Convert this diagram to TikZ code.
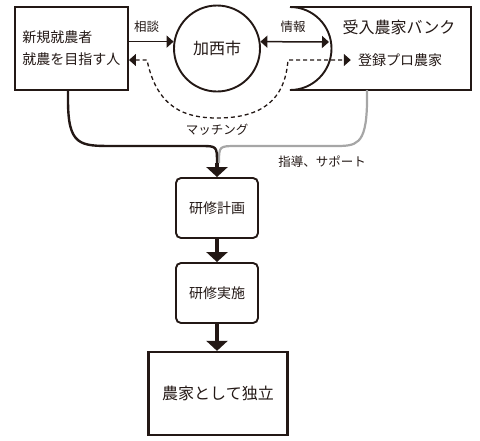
\documentclass[tikz,border=0pt]{standalone}
\usepackage{fontspec}
\setmainfont{Noto Sans CJK JP}
\usepackage{xcolor}
\usetikzlibrary{arrows.meta}
\definecolor{ink}{HTML}{231815}
\definecolor{guide}{HTML}{A6A6A6}
\tikzset{
  box/.style={draw=ink,line width=1.9pt,inner sep=0pt,text=ink},
  arr/.style={draw=ink,line width=1.5pt},
  flow/.style={draw=ink,line width=4.5pt,-{Triangle[length=10pt,width=21pt]}},
  lbl/.style={font=\fontsize{12.5}{14}\selectfont,text=ink},
}

\begin{document}
\begin{tikzpicture}[x=1pt,y=-1pt,>={Triangle[length=7pt,width=12pt]}]
 \useasboundingbox (0,0) rectangle (480,440);
 \node[box,minimum width=113,minimum height=83,align=left,font=\fontsize{14}{22}\selectfont] (newf) at (71.5,48.5) {新規就農者\\就農を目指す人};
 \node[box,circle,minimum size=86,font=\fontsize{16}{18}\selectfont] (city) at (217,48.5) {加西市};
 % bank
 \draw[ink,line width=1.9pt] (290,7) -- (471,7) -- (471,90) -- (290,90) .. controls (313,90) and (331.5,71.4) .. (331.5,48.5) .. controls (331.5,25.6) and (313,7) .. (290,7);
 \node[font=\fontsize{16}{18}\selectfont,text=ink] (bank) at (399,27) {受入農家バンク};
 \node[font=\fontsize{14}{16}\selectfont,text=ink,inner sep=3pt] (pro) at (400,60) {登録プロ農家};
 \coordinate (bankw) at (329,42);
 \coordinate (bankb) at (367,90);
 \coordinate (merge) at (217,163);

 \draw[arr,->] (newf.east |- city.171) -- (city.171);
 \draw[arr,<->] (city.9) -- (bankw);
 \node[lbl] (consult) at (146.5,27) {相談};
 \node[lbl] (info) at (293,27) {情報};

 \draw[ink,line width=1.3pt,dash pattern=on 4pt off 3pt,<->] (newf.east |- pro) -- (147,60) .. controls (157,108) and (185,118) .. (217,118) .. controls (262,118) and (285,100) .. (288,60) -- ([xshift=-4pt]pro.west);
 \node[lbl] (match) at (217,130) {マッチング};

 %%%%%%%%%%%%%%%%%%%%%%%%%%%%%%%%%%%
 \draw[guide,line width=2.2pt] (bankb) -- (367,104) .. controls (366,146) and (356,146) .. (334,146) -- (237,146) .. controls (219,146) .. ([xshift=2pt]merge);
 \draw[ink,line width=2.4pt] ([xshift=-3.5pt]newf.south) -- (68,100) .. controls (68,146) and (80,146) .. (113,146) -- (200,146) .. controls (217,146) .. (merge);
 \node[lbl] (support) at (322,162) {指導、サポート};

 \node[box,rounded corners=5pt,minimum width=82,minimum height=60,font=\fontsize{14}{16}\selectfont] (plan) at (217,208) {研修計画};
 \node[box,rounded corners=5pt,minimum width=82,minimum height=60,font=\fontsize{14}{16}\selectfont] (exec) at (217,293) {研修実施};
 \node[box,line width=2.3pt,minimum width=139,minimum height=83,font=\fontsize{16}{18}\selectfont] (indep) at (218,393.5) {農家として独立};

 \draw[flow] (merge) -- (merge |- plan.north);
 \draw[flow] (plan.south) -- (exec.north);
 \draw[flow] (exec.south) -- (exec.south |- indep.north);
\end{tikzpicture}
\end{document}
